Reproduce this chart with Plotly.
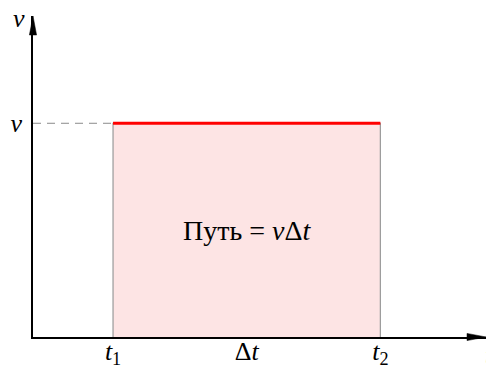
'''
    Schematic v(t) chart: constant speed, distance as the shaded area
'''

import plotly.graph_objects as go

# values (schematic units)
t_start = 1.0
t_end = 4.34
speed = 1.0
x_max = 5.66
y_max = 1.502

tick_x_vals = [t_start, (t_start + t_end) / 2, t_end]
tick_x_text = ['<i>t</i><sub>1</sub>', 'Δ<i>t</i>', '<i>t</i><sub>2</sub>']
tick_y_vals = [speed]
tick_y_text = ['<i>v</i>']
area_label = 'Путь = <i>v</i>Δ<i>t</i>'

MATH_FONT = dict(family='Liberation Serif', size=26, color='black')

W, H = 486, 369
M = dict(l=33, r=0, t=16, b=32)


def init_figure():
    fig = go.Figure()
    fig.update_layout(
        width=W, height=H,
        margin=M,
        plot_bgcolor='white', paper_bgcolor='white',
        showlegend=False,
        font=MATH_FONT,
    )
    fig.update_xaxes(range=[0, x_max], showgrid=False, zeroline=False,
                     showline=True, linecolor='black', linewidth=1.5,
                     tickvals=tick_x_vals, ticktext=tick_x_text,
                     ticks='', ticklen=0, ticklabelstandoff=-10,
                     tickfont=MATH_FONT, automargin=False)
    fig.update_yaxes(range=[0, y_max], showgrid=False, zeroline=False,
                     showline=True, linecolor='black', linewidth=1.5,
                     tickvals=tick_y_vals, ticktext=tick_y_text,
                     ticks='', ticklen=0, ticklabelstandoff=4,
                     tickfont=MATH_FONT, automargin=False)
    return fig


def draw_area(fig):
    # shaded rectangle under the speed line
    fig.add_trace(go.Scatter(x=[t_start, t_start, t_end, t_end],
                             y=[0, speed, speed, 0],
                             mode='lines', fill='toself',
                             fillcolor='#fde4e4',
                             line=dict(color='#999999', width=1.2),
                             hoverinfo='skip'))
    # dashed guide from the axis
    fig.add_trace(go.Scatter(x=[0, t_start], y=[speed, speed], mode='lines',
                             line=dict(color='#8a8a8a', width=1, dash='8px,6px'),
                             hoverinfo='skip'))
    # the speed line itself
    fig.add_trace(go.Scatter(x=[t_start, t_end], y=[speed, speed], mode='lines',
                             line=dict(color='#ff0000', width=3),
                             hoverinfo='skip'))
    fig.add_annotation(x=(t_start + t_end) / 2, y=speed / 2, text=area_label,
                       showarrow=False,
                       font=dict(MATH_FONT, size=28))
    return fig


def draw_arrows(fig):
    # arrow heads at the end of each axis (sizes in pixels)
    head_len, head_half = 19, 3.6
    w = W - M['l'] - M['r']
    h = H - M['t'] - M['b']
    fig.add_shape(type='path', xref='paper', yref='paper',
                  path=f'M {-head_half / w} {1 - head_len / h} '
                       f'L 0 1 L {head_half / w} {1 - head_len / h} Z',
                  fillcolor='black', line=dict(color='black', width=0.5))
    fig.add_shape(type='path', xref='paper', yref='paper',
                  path=f'M {1 - head_len / w} {head_half / h} '
                       f'L 1.0 0 L {1 - head_len / w} {-head_half / h} Z',
                  fillcolor='black', line=dict(color='black', width=0.5))
    fig.add_annotation(xref='paper', yref='paper', x=0, y=1, xanchor='right',
                       yanchor='middle', xshift=-6, yshift=-2, text='<i>v</i>',
                       showarrow=False, font=MATH_FONT)
    fig.add_annotation(xref='paper', yref='paper', x=1, y=0, xanchor='left',
                       yanchor='middle', xshift=-3, yshift=-18, text='<i>t</i>',
                       showarrow=False, font=MATH_FONT)
    return fig


fig = init_figure()
fig = draw_area(fig)
fig = draw_arrows(fig)
# drop the default page margin so the figure fills the window
fig.write_html("out.html", config={'displayModeBar': False},
               post_script="document.body.style.margin = '0';")
